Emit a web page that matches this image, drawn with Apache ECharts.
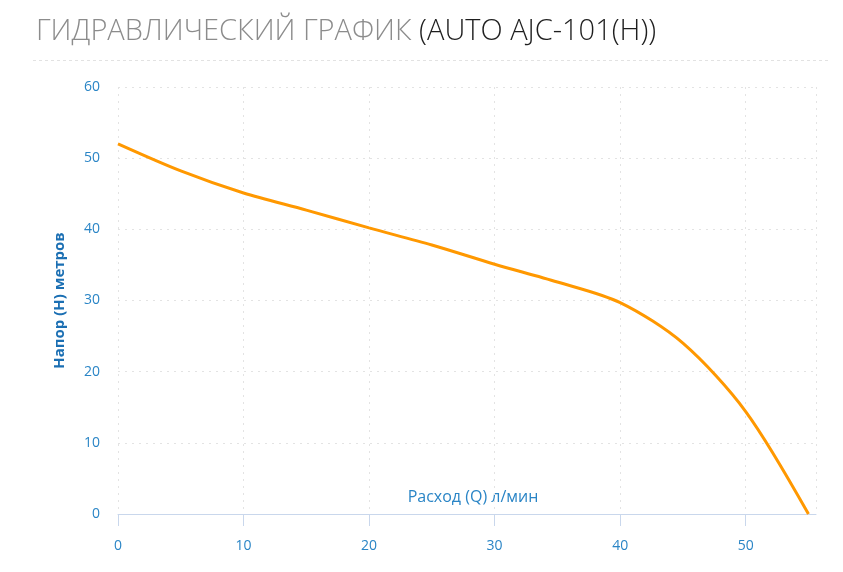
<!DOCTYPE html>
<html>
<head>
<meta charset="utf-8">
<script src="https://cdn.jsdelivr.net/npm/echarts@6/dist/echarts.min.js"></script>
<style>
html,body{margin:0;padding:0;background:#fff;}
#c{width:843px;height:572px;}
</style>
</head>
<body>
<div id="c"></div>
<script>
var flow = [0, 5, 10, 15, 20, 25, 30, 35, 40, 45, 50, 55];
var head = [52, 48.2, 45.1, 42.7, 40.2, 37.8, 35.1, 32.6, 29.7, 24.0, 14.4, 0];
var titleGray = 'ГИДРАВЛИЧЕСКИЙ ГРАФИК ';
var titleDark = '(AUTO AJC-101(H))';
var xName = 'Расход (Q) л/мин';
var yName = 'Напор (H) метров';

var pts = flow.map(function(q, i){ return [q, head[i]]; });
var chart = echarts.init(document.getElementById('c'));
var labelColor = '#2a85c6';
chart.setOption({
  animation: false,
  textStyle: {fontFamily: 'Open Sans'},
  title: {
    left: 31, top: 12,
    text: '{g|' + titleGray + '}{d|' + titleDark + '}',
    textStyle: {
      rich: {
        g: {fontSize: 29, fontWeight: 300, color: '#8c8c8c', fontFamily: 'Open Sans'},
        d: {fontSize: 29, fontWeight: 300, color: '#1e1e1e', fontFamily: 'Open Sans'}
      }
    }
  },
  graphic: [{
    type: 'line', shape: {x1: 33, y1: 60.5, x2: 828, y2: 60.5},
    style: {stroke: '#e2e2e2', lineWidth: 1, lineDash: [3, 3]}
  }, {
    type: 'text', x: 473, y: 497,
    style: {text: xName, fill: labelColor, font: '16px "Open Sans"', textAlign: 'center', textVerticalAlign: 'middle'}
  }],
  grid: {left: 118, right: 27, top: 87, bottom: 58, containLabel: false},
  xAxis: {
    type: 'value', min: 0, max: 55.6, interval: 10,
    axisLine: {show: true, lineStyle: {color: '#c9d7ec', width: 1}},
    axisTick: {show: true, length: 12, lineStyle: {color: '#c9d7ec'}},
    axisLabel: {color: labelColor, fontSize: 14, margin: 25, showMaxLabel: false,
      formatter: function(v){ return v % 10 === 0 ? String(v) : ''; }},
    splitLine: {show: true, lineStyle: {color: '#e3e3e3', type: [2, 5]}}
  },
  yAxis: {
    type: 'value', min: 0, max: 60, interval: 10,
    name: yName, nameLocation: 'middle', nameGap: 51,
    nameTextStyle: {color: '#1b6fb3', fontSize: 15, fontWeight: 'bold'},
    axisLine: {show: false},
    axisTick: {show: false},
    axisLabel: {color: labelColor, fontSize: 14, margin: 18},
    splitLine: {show: true, lineStyle: {color: '#e3e3e3', type: [2, 5]}}
  },
  series: [{
    type: 'line', data: pts, smooth: 0.3, showSymbol: false,
    lineStyle: {color: '#ff9800', width: 3}
  }]
});
</script>
</body>
</html>
